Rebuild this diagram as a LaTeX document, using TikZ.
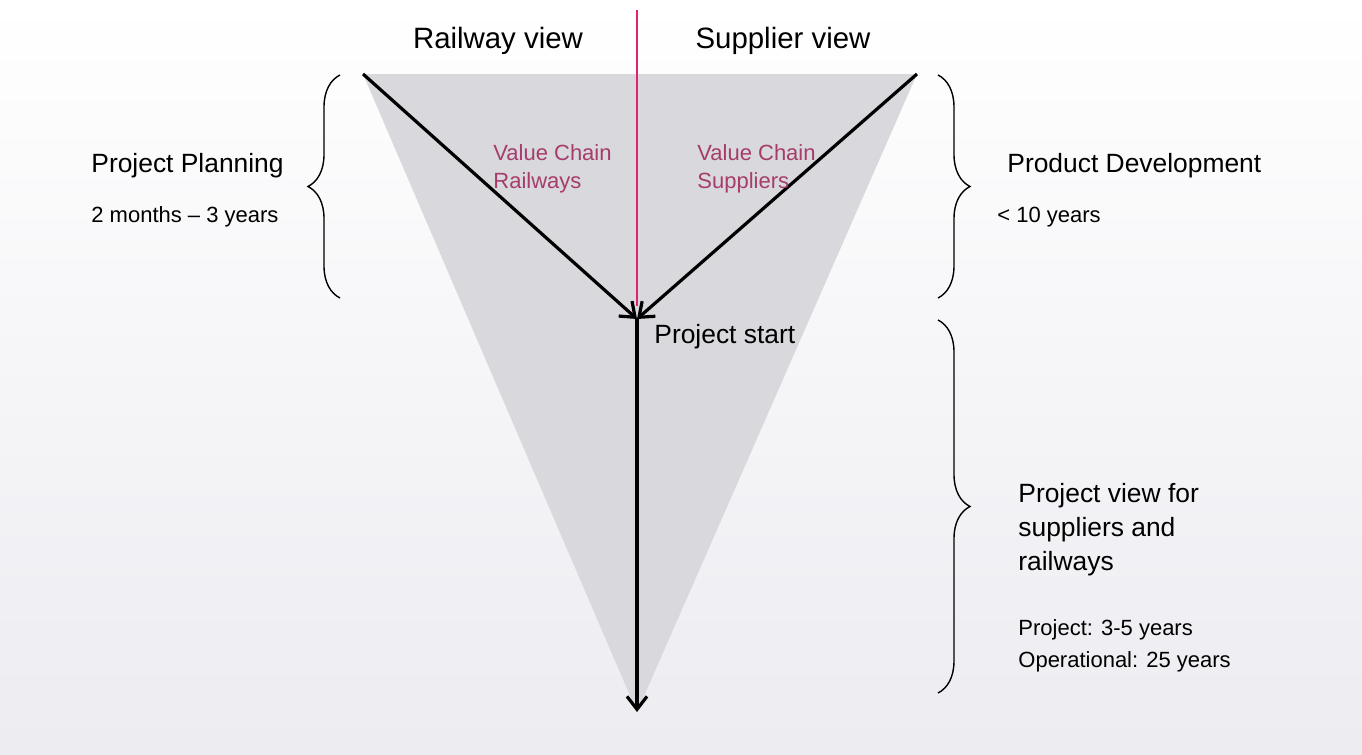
\documentclass[tikz,border=0pt]{standalone}
\usepackage{fontspec}
\setmainfont{Liberation Sans}
\usetikzlibrary{arrows.meta,positioning,decorations.pathreplacing}
\definecolor{funnel}{HTML}{D8D8DD}
\definecolor{bgbottom}{HTML}{ECECF1}
\definecolor{divider}{HTML}{E3206E}
\definecolor{chain}{HTML}{A63C6C}
\tikzset{
  >={Straight Barb[length=6.5pt,width=10pt]},
  flow/.style={->,line width=1.6pt},
  brc/.style={decorate,decoration={brace,amplitude=16pt},line width=.7pt},
  % labels
  head/.style={font=\fontsize{14.7}{17}\selectfont,inner sep=0pt},
  big/.style={font=\fontsize{13.2}{17}\selectfont,align=left,anchor=west,inner sep=0pt},
  small/.style={font=\fontsize{11}{16}\selectfont,align=left,anchor=west,inner sep=0pt},
  chainlbl/.style={small,text=chain,font=\fontsize{11}{14}\selectfont}
}
\begin{document}
\begin{tikzpicture}[x=0.5pt,y=-0.5pt]
  \useasboundingbox (0,0) rectangle (1362,755);
  %--- background
  \fill[top color=white,bottom color=bgbottom] (0,0) rectangle (1362,755);

  %--- funnel
  \coordinate (tl)    at (363,74);
  \coordinate (tr)    at (917,74);
  \coordinate (apex)  at (637,712);
  \coordinate (start) at (637,319);
  \coordinate (top)   at (637,10);
  \coordinate (mid)   at (637,306);
  \fill[funnel] (tl) -- (tr) -- (apex) -- cycle;

  %--- divider railway / supplier
  \draw[divider,line width=.7pt] (top) -- (mid);

  %--- value chains & project
  \draw[flow] (tl) -- (start);
  \draw[flow] (tr) -- (start);
  \draw[flow] (start) -- (apex);

  %--- views
  \node[head] (railway)  at (498,41) {Railway view};
  \node[head] (supplier) at (783,41) {Supplier view};
  \node[chainlbl] (vcrail) at (493,169) {Value Chain\\Railways};
  \node[chainlbl] (vcsupp) at (697,169) {Value Chain\\Suppliers};
  \node[big] (pstart) at (654,337) {Project start};

  %--- braces
  \draw[brc] (340,298) -- (340,75);
  \draw[brc] (938,75) -- (938,298);
  \draw[brc] (938,320) -- (938,693);

  %--- phases
  \node[big]   (planning) at (91,166)   {Project Planning};
  \node[small] (plantime) at (91,217)   {2 months -- 3 years};
  \node[big]   (develop)  at (1007,166) {Product Development};
  \node[small] (devtime)  at (997,217)  {< 10 years};
  \node[big]   (projview) at (1018,530) {Project view for\\suppliers and\\railways};
  \node[small] (projtime) at (1018,646) {Project: 3-5 years\\Operational: 25 years};
\end{tikzpicture}
\end{document}
